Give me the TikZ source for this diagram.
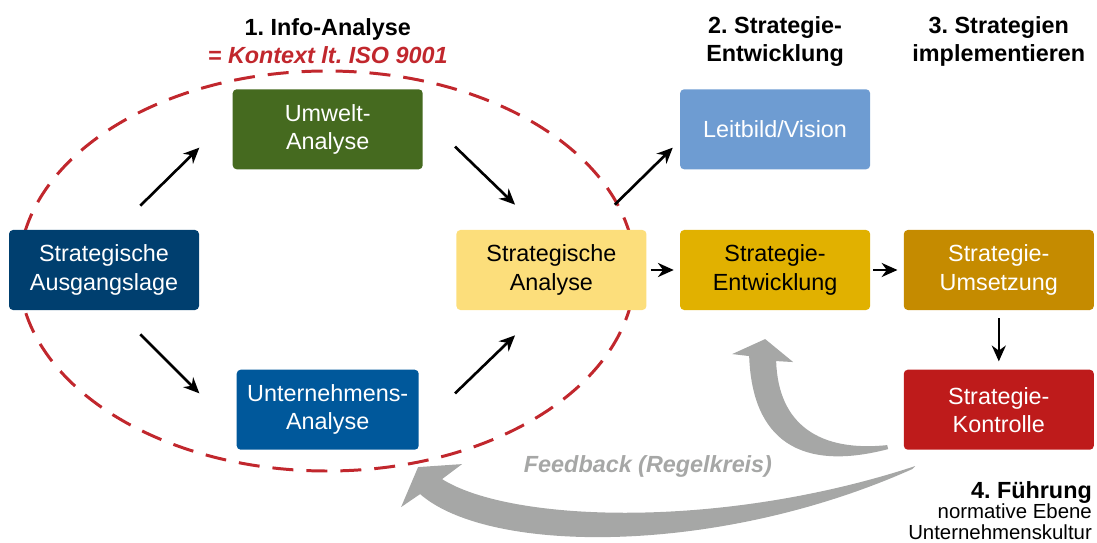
\documentclass[tikz,border=0pt]{standalone}
\usepackage{fontspec}
\setmainfont{Liberation Sans}
\usepackage{tikz}
\usetikzlibrary{arrows.meta,backgrounds,positioning}
\frenchspacing

\definecolor{ausblue}{HTML}{003F6F}
\definecolor{umwgreen}{HTML}{456A1F}
\definecolor{untblue}{HTML}{00589B}
\definecolor{anayellow}{HTML}{FCDE7B}
\definecolor{leitblue}{HTML}{6E9CD2}
\definecolor{entgold}{HTML}{E1B100}
\definecolor{umsgold}{HTML}{C58B00}
\definecolor{konred}{HTML}{BE1B1B}
\definecolor{ctxred}{HTML}{C1272D}
\definecolor{fbgray}{HTML}{A6A7A6}

\begin{document}
\begin{tikzpicture}
[font=\fontsize{13.3}{16}\selectfont,
% STYLES
% every step of the process is a rounded box
stage/.style={rectangle, rounded corners=0.08cm, inner sep=2pt, minimum width=3.8cm, minimum height=1.6cm, align=center, text=white},
% Define styles for each kind of step
startstage/.style={stage, fill=ausblue},
infostage/.style={stage, fill=umwgreen},
firmstage/.style={stage, fill=untblue, minimum width=3.64cm},
analysisstage/.style={stage, fill=anayellow, text=black},
visionstage/.style={stage, fill=leitblue},
devstage/.style={stage, fill=entgold, text=black},
implstage/.style={stage, fill=umsgold},
controlstage/.style={stage, fill=konred},
% headings, arrows and the context ellipse
heading/.style={align=center, inner sep=0pt, font=\fontsize{13.3}{16}\selectfont\bfseries},
flow/.style={-{Stealth[length=9pt,width=8pt]}, line width=1.5pt},
context/.style={draw=ctxred, line width=1.7pt, dash pattern=on 0.42cm off 0.26cm},
feedback/.style={fill=fbgray}]

\useasboundingbox (0,0) rectangle (21.94,-10.86);

% Draw steps
\node [startstage] (aus) at (2.08,-5.4) {Strategische\\Ausgangslage};
\node [infostage, above right=1.2cm and 0.66cm of aus] (umw) {Umwelt-\\Analyse};
\node [firmstage, below right=1.18cm and 0.74cm of aus] (unt) {Unternehmens-\\Analyse};
\node [analysisstage, below right=1.2cm and 0.66cm of umw] (ana) {Strategische\\Analyse};
\node [devstage, right=0.66cm of ana] (ent) {Strategie-\\Entwicklung};
\node [visionstage, above=1.2cm of ent] (leit) {Leitbild/Vision};
\node [implstage, right=0.66cm of ent] (ums) {Strategie-\\Umsetzung};
\node [controlstage, below=1.18cm of ums] (kon) {Strategie-\\Kontrolle};

%%%%%%%%%%%%%%%

% headings
\node [heading, above=0.5cm of umw] (t1) {1. Info-Analyse\\
\textcolor{ctxred}{\itshape = Kontext lt.\ ISO 9001}};
\node [heading, above=0.44cm of leit] (t2) {2. Strategie-\\Entwicklung};
\node [heading] (t3) at (ums |- t2) {3. Strategien\\implementieren};

% leadership
\node [align=right, inner sep=0pt, font=\fontsize{11.6}{11.6}\selectfont,
  below left=0.62cm and 0.04cm of kon.south east] (lead)
  {{\fontsize{13.3}{13.3}\selectfont\bfseries 4. Führung}\\
  normative Ebene\\Unternehmenskultur};

% feedback
\node [text=fbgray, font=\fontsize{13.3}{16}\selectfont\bfseries\itshape] (fb) at (12.96,-9.32) {Feedback (Regelkreis)};

%%%%%%%%%%%%%%%%

\begin{scope}[on background layer]
\draw [context] (6.54,-5.42) ellipse [x radius=6.16, y radius=4.0];
\end{scope}

\draw [flow] ([xshift=-1.18cm,yshift=0.48cm]aus.north east) -- ([xshift=-0.66cm,yshift=0.44cm]umw.south west);
\draw [flow] ([xshift=0.64cm,yshift=0.46cm]umw.south east) -- ([xshift=1.18cm,yshift=0.5cm]ana.north west);
\draw [flow] ([xshift=-1.18cm,yshift=-0.48cm]aus.south east) -- ([xshift=-0.74cm,yshift=-0.48cm]unt.north west);
\draw [flow] ([xshift=0.72cm,yshift=-0.48cm]unt.north east) -- ([xshift=1.18cm,yshift=-0.5cm]ana.south west);
\draw [flow] ([xshift=-0.64cm,yshift=0.5cm]ana.north east) -- ([xshift=-0.14cm,yshift=0.44cm]leit.south west);
\draw [flow, shorten <=0.08cm, shorten >=0.12cm] (ana) -- (ent);
\draw [flow, shorten <=0.06cm, shorten >=0.12cm] (ent) -- (ums);
\draw [flow, shorten <=0.16cm, shorten >=0.16cm] (ums) -- (kon);

% feedback arrows (in pixels of the sketch)
\begin{scope}[x=0.02cm, y=-0.02cm]
\fill [feedback] (888,449) .. controls (800,472) and (752,440) .. (749,356)
  -- (732,354) -- (765,339) -- (793,362) -- (776,361)
  .. controls (778,425) and (820,452) .. (887,445) -- cycle;
\fill [feedback] (915,466) .. controls (720,530) and (510,522) .. (442,479)
  -- (462,464) -- (418,467) -- (401,507) -- (420,494)
  .. controls (490,555) and (720,555) .. (912,469) -- cycle;
\end{scope}

\end{tikzpicture}
\end{document}
